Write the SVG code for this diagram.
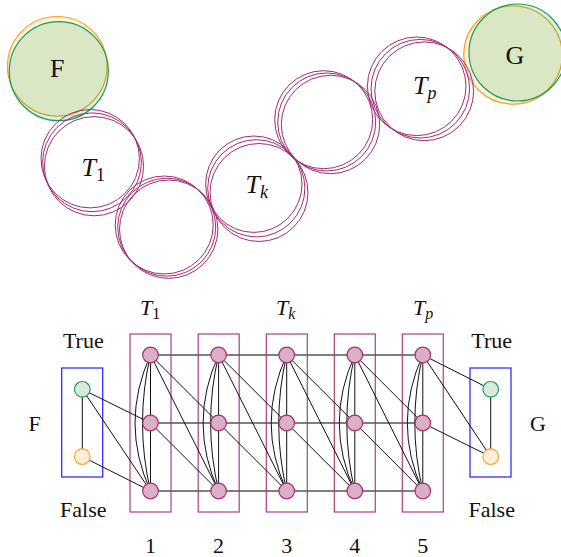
<svg xmlns="http://www.w3.org/2000/svg" width="561" height="557" viewBox="0 0 561 557">
<style>
text{font-family:"Liberation Serif","DejaVu Serif",serif;fill:#111}
.big{font-size:26px}
.lab{font-size:22px}
.it{font-style:italic}
.tc{fill:none;stroke:#a02b72;stroke-width:1}
.og{fill:#ffa500;fill-opacity:0.15;stroke:#f5a21c;stroke-width:1.2}
.gr{fill:#00a651;fill-opacity:0.15;stroke:#179c5c;stroke-width:1.2}
.col{fill:none;stroke:#b0407f;stroke-width:1.2}
.box{fill:none;stroke:#2020ff;stroke-width:1.2}
.pn{fill:#dbafc8;stroke:#a8306f;stroke-width:1.2}
.gn{fill:#d7eadb;stroke:#1f9e5a;stroke-width:1.2}
.on{fill:#ffeed8;stroke:#f5a623;stroke-width:1.2}
.e{stroke:#111;stroke-width:1;fill:none}
.h{stroke:#555;stroke-width:1.6;fill:none}
</style>

<!-- Top: overlapping regions -->
<g id="F-top">
<circle class="og" cx="57.3" cy="66.3" r="49.8"/>
<circle class="gr" cx="58.8" cy="71.2" r="49.5"/>
<text class="big" x="57.2" y="77" text-anchor="middle">F</text>
</g>
<g id="G-top">
<circle class="og" cx="513" cy="55" r="49.2"/>
<circle class="gr" cx="517.5" cy="52.5" r="48.5"/>
<text class="big" x="515" y="64" text-anchor="middle">G</text>
</g>
<g id="T1-top">
<circle class="tc" cx="90.2" cy="158.7" r="49.2"/>
<circle class="tc" cx="92" cy="162.3" r="49.4"/>
<circle class="tc" cx="94" cy="166.2" r="49.6"/>
<text class="big" x="81.5" y="176"><tspan class="it">T</tspan><tspan font-size="18" dy="5">1</tspan></text>
</g>
<g id="C2-top">
<circle class="tc" cx="164.2" cy="225" r="49"/>
<circle class="tc" cx="166.7" cy="227.2" r="49"/>
<circle class="tc" cx="168.7" cy="229.2" r="49.2"/>
</g>
<g id="Tk-top">
<circle class="tc" cx="253.8" cy="184.2" r="48.2"/>
<circle class="tc" cx="256.3" cy="188.3" r="48.6"/>
<circle class="tc" cx="259" cy="192.5" r="49"/>
<text class="big" x="245.5" y="193.3"><tspan class="it">T</tspan><tspan class="it" font-size="18" dy="5">k</tspan></text>
</g>
<g id="C4-top">
<circle class="tc" cx="323.7" cy="119.7" r="49"/>
<circle class="tc" cx="326.7" cy="122" r="49"/>
<circle class="tc" cx="330.5" cy="124.5" r="49.2"/>
</g>
<g id="Tp-top">
<circle class="tc" cx="416.7" cy="86.3" r="49.3"/>
<circle class="tc" cx="420.3" cy="88.7" r="49.3"/>
<circle class="tc" cx="424.2" cy="91.3" r="49.4"/>
<text class="big" x="413" y="94.3"><tspan class="it">T</tspan><tspan class="it" font-size="18" dy="5">p</tspan></text>
</g>

<!-- Bottom: containers -->
<g id="boxes">
<rect class="col" x="130" y="334" width="41" height="178"/>
<rect class="col" x="198.2" y="334" width="41" height="178"/>
<rect class="col" x="266.3" y="334" width="41" height="178"/>
<rect class="col" x="334.3" y="334" width="41" height="178"/>
<rect class="col" x="402.3" y="334" width="41" height="178"/>
<rect class="box" x="61.7" y="368" width="41" height="109"/>
<rect class="box" x="470" y="368" width="41" height="109"/>
</g>

<g id="connectors">
<!-- horizontal rows -->
<line class="h" x1="150.5" y1="355" x2="422.8" y2="355"/>
<line class="h" x1="150.5" y1="423" x2="422.8" y2="423"/>
<line class="h" x1="150.5" y1="491" x2="422.8" y2="491"/>
<!-- F -->
<line class="e" x1="82.3" y1="389.3" x2="82.3" y2="456.7"/>
<line class="e" x1="82.3" y1="389.3" x2="150.5" y2="423"/>
<line class="e" x1="82.3" y1="389.3" x2="150.5" y2="491"/>
<line class="e" x1="82.3" y1="456.7" x2="150.5" y2="491"/>
<!-- G -->
<line class="e" x1="490.7" y1="389.3" x2="490.7" y2="456.7"/>
<line class="e" x1="422.8" y1="355" x2="490.7" y2="389.3"/>
<line class="e" x1="422.8" y1="355" x2="490.7" y2="456.7"/>
<line class="e" x1="422.8" y1="423" x2="490.7" y2="456.7"/>
<!-- column 1 -->
<line class="e" x1="150.5" y1="355" x2="150.5" y2="491"/>
<path class="e" d="M150.5 355 Q119.5 423 150.5 491"/>
<path class="e" d="M150.5 355 Q134.5 423 150.5 491"/>
<!-- column 2 -->
<line class="e" x1="218.6" y1="355" x2="218.6" y2="491"/>
<path class="e" d="M218.6 355 Q187.6 423 218.6 491"/>
<path class="e" d="M218.6 355 Q202.6 423 218.6 491"/>
<!-- column 3 -->
<line class="e" x1="286.7" y1="355" x2="286.7" y2="491"/>
<path class="e" d="M286.7 355 Q255.7 423 286.7 491"/>
<path class="e" d="M286.7 355 Q270.7 423 286.7 491"/>
<!-- column 4 -->
<line class="e" x1="354.8" y1="355" x2="354.8" y2="491"/>
<path class="e" d="M354.8 355 Q323.8 423 354.8 491"/>
<path class="e" d="M354.8 355 Q338.8 423 354.8 491"/>
<!-- column 5 -->
<line class="e" x1="422.8" y1="355" x2="422.8" y2="491"/>
<path class="e" d="M422.8 355 Q391.8 423 422.8 491"/>
<path class="e" d="M422.8 355 Q406.8 423 422.8 491"/>
<!-- between columns -->
<line class="e" x1="150.5" y1="355" x2="218.6" y2="423"/>
<line class="e" x1="150.5" y1="355" x2="218.6" y2="491"/>
<line class="e" x1="150.5" y1="423" x2="218.6" y2="491"/>
<line class="e" x1="218.6" y1="355" x2="286.7" y2="423"/>
<line class="e" x1="218.6" y1="355" x2="286.7" y2="491"/>
<line class="e" x1="218.6" y1="423" x2="286.7" y2="491"/>
<line class="e" x1="286.7" y1="355" x2="354.8" y2="423"/>
<line class="e" x1="286.7" y1="355" x2="354.8" y2="491"/>
<line class="e" x1="286.7" y1="423" x2="354.8" y2="491"/>
<line class="e" x1="354.8" y1="355" x2="422.8" y2="423"/>
<line class="e" x1="354.8" y1="355" x2="422.8" y2="491"/>
<line class="e" x1="354.8" y1="423" x2="422.8" y2="491"/>
</g>

<g id="F-true"><circle class="gn" cx="82.3" cy="389.3" r="7.8"/></g>
<g id="F-false"><circle class="on" cx="82.3" cy="456.7" r="7.8"/></g>
<g id="G-true"><circle class="gn" cx="490.7" cy="389.3" r="7.8"/></g>
<g id="G-false"><circle class="on" cx="490.7" cy="456.7" r="7.8"/></g>

<g id="col1"><circle class="pn" cx="150.5" cy="355" r="7.8"/><circle class="pn" cx="150.5" cy="423" r="7.8"/><circle class="pn" cx="150.5" cy="491" r="7.8"/></g>
<g id="col2"><circle class="pn" cx="218.6" cy="355" r="7.8"/><circle class="pn" cx="218.6" cy="423" r="7.8"/><circle class="pn" cx="218.6" cy="491" r="7.8"/></g>
<g id="col3"><circle class="pn" cx="286.7" cy="355" r="7.8"/><circle class="pn" cx="286.7" cy="423" r="7.8"/><circle class="pn" cx="286.7" cy="491" r="7.8"/></g>
<g id="col4"><circle class="pn" cx="354.8" cy="355" r="7.8"/><circle class="pn" cx="354.8" cy="423" r="7.8"/><circle class="pn" cx="354.8" cy="491" r="7.8"/></g>
<g id="col5"><circle class="pn" cx="422.8" cy="355" r="7.8"/><circle class="pn" cx="422.8" cy="423" r="7.8"/><circle class="pn" cx="422.8" cy="491" r="7.8"/></g>

<g id="labels">
<text class="lab" x="140" y="315"><tspan class="it">T</tspan><tspan font-size="16" dy="4">1</tspan></text>
<text class="lab" x="276" y="315"><tspan class="it">T</tspan><tspan class="it" font-size="16" dy="4">k</tspan></text>
<text class="lab" x="413" y="315"><tspan class="it">T</tspan><tspan class="it" font-size="16" dy="4">p</tspan></text>
<text class="lab" x="83.3" y="348.3" text-anchor="middle">True</text>
<text class="lab" x="83.3" y="516.7" text-anchor="middle">False</text>
<text class="lab" x="491.7" y="348.3" text-anchor="middle">True</text>
<text class="lab" x="491.7" y="516.7" text-anchor="middle">False</text>
<text class="lab" x="34.5" y="430.7" text-anchor="middle">F</text>
<text class="lab" x="538" y="430.7" text-anchor="middle">G</text>
<text class="lab" x="150.5" y="552.7" text-anchor="middle">1</text>
<text class="lab" x="218.6" y="552.7" text-anchor="middle">2</text>
<text class="lab" x="286.7" y="552.7" text-anchor="middle">3</text>
<text class="lab" x="354.8" y="552.7" text-anchor="middle">4</text>
<text class="lab" x="422.8" y="552.7" text-anchor="middle">5</text>
</g>
</svg>
